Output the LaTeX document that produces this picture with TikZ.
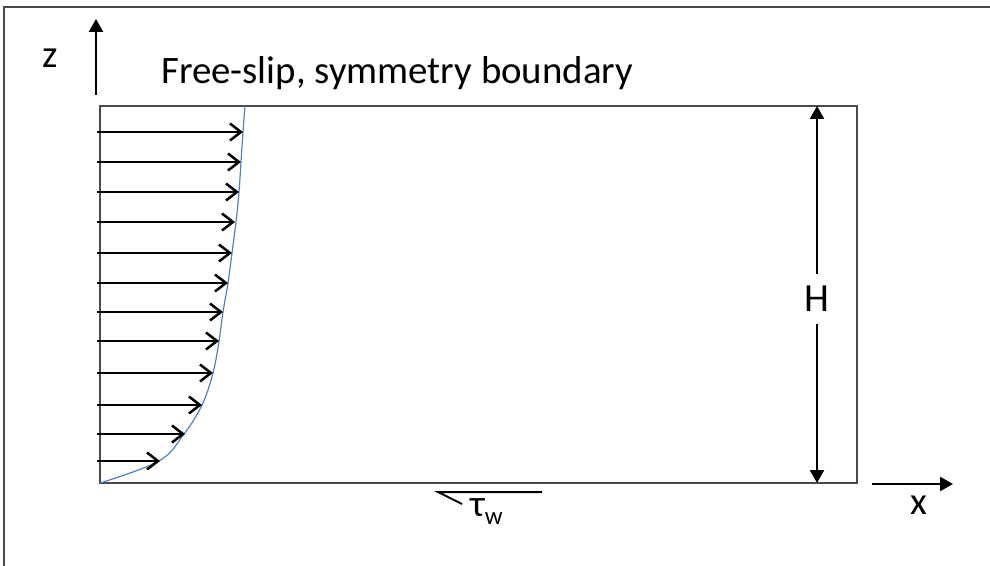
\documentclass[tikz,border=0pt]{standalone}
\usepackage{fontspec}
\setmainfont{Carlito}
\usetikzlibrary{arrows.meta}
\definecolor{boxgray}{HTML}{4A4A4A}
\definecolor{profblue}{HTML}{4F81BD}
\begin{document}
\begin{tikzpicture}[x=1bp,y=-1bp,
  boxline/.style={draw=boxgray,line width=2.5bp},
  axis/.style={draw=black,line width=2.5bp,-{Triangle[length=13bp,width=14bp]}},
  velarrow/.style={draw=black,line width=2.5bp,-{Straight Barb[length=11bp,width=17bp,line width=2.5bp]}},
  lab/.style={font=\fontsize{39}{42}\selectfont,inner sep=0pt}
]
\useasboundingbox (0,0) rectangle (990,566);
% outer frame (top and left edges visible)
\draw[boxline] (4,566) -- (4,7) -- (990,7);
% main domain
\coordinate (BL) at (100,483);
\coordinate (TL) at (100,106);
\coordinate (TR) at (857,106);
\coordinate (BR) at (857,483);
\draw[boxline] (BL) -- (TL) -- (TR) -- (BR) -- cycle;
% title
\node[lab,anchor=west] (title) at (161,73) {Free-slip, symmetry boundary};
% z axis
\coordinate (z0) at (96,95);
\coordinate (z1) at (96,19);
\draw[axis] (z0) -- (z1);
\node[lab] (zl) at (50,58) {z};
% x axis
\coordinate (x0) at (872,484);
\coordinate (x1) at (953,484);
\draw[axis] (x0) -- (x1);
\node[lab] (xl) at (919,505) {x};
% H dimension
\coordinate (Ht) at (817,106);
\coordinate (Hb) at (817,483);
\node[lab,font=\fontsize{40}{42}\selectfont,fill=white,inner ysep=12bp,inner xsep=4bp] (Hl) at (817,299) {H};
\draw[axis] (Hl.north) -- (Ht);
\draw[axis] (Hl.south) -- (Hb);
% velocity profile
\draw[profblue,line width=1.2bp] plot[smooth,tension=0.6] coordinates
  {(100,483) (159,461) (184,434) (202,405) (213,373) (219,341) (223,312) (228,283) (232,253) (236,222) (239,192) (241,162) (243,132) (245,106)};
\foreach \yy/\xx [count=\i] in {132/243,162/241,192/239,222/235,253/232,283/228,312/223,341/219,373/213,405/202,434/185,461/160}{
  \coordinate (s\i) at (97,\yy);
  \coordinate (e\i) at (\xx,\yy);
  \draw[velarrow] (s\i) -- (e\i);
}
% wall shear stress
\coordinate (t0) at (542,492);
\coordinate (t1) at (438,492);
\coordinate (t2) at (462,504);
\draw[black,line width=2bp] (t0) -- (t1) -- (t2);
\node[inner sep=0pt,anchor=west] (tau) at (470,512) {\fontsize{38}{40}\selectfont τ\raisebox{-8bp}{\fontsize{25}{26}\selectfont w}};
\end{tikzpicture}
\end{document}
